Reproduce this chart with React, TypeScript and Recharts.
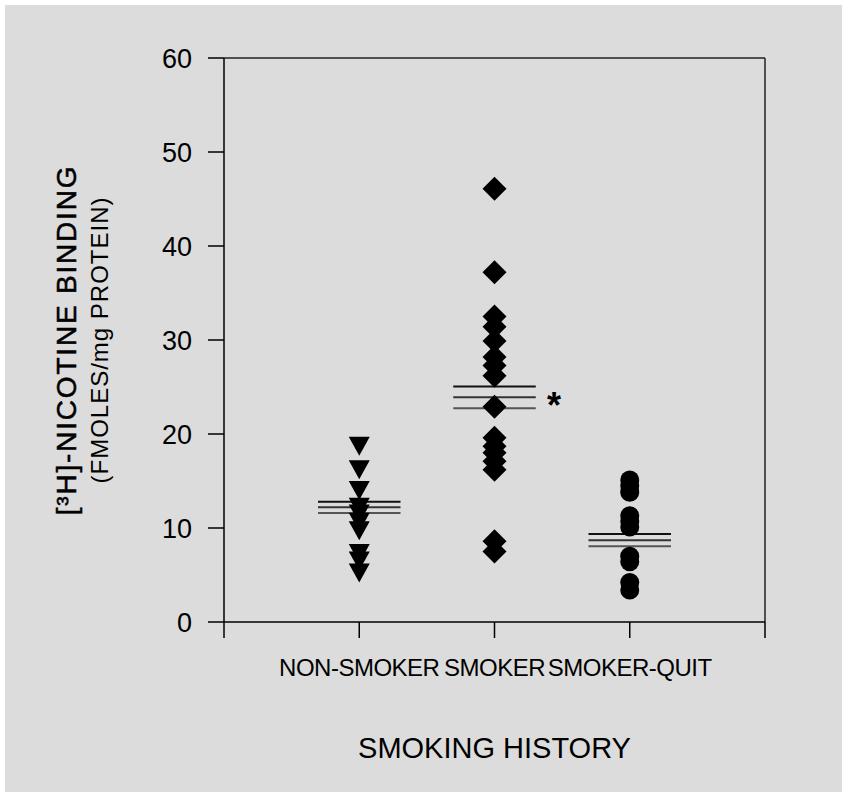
import { ScatterChart, Scatter, XAxis, YAxis, ReferenceLine, ReferenceDot, Label } from 'recharts';

// groups sit at x = 1, 2, 3 on a 0..4 axis
const groups = ['NON-SMOKER', 'SMOKER', 'SMOKER-QUIT'];
const nonSmoker = [18.7, 16.2, 14.0, 12.2, 11.5, 10.6, 9.7, 7.3, 6.5, 5.2];
const smoker = [46.1, 37.2, 32.5, 31.4, 29.9, 28.2, 27.3, 26.2, 22.9, 19.6, 18.7, 18.0, 17.1, 16.2, 8.6, 7.5];
const smokerQuit = [15.1, 14.5, 13.8, 11.3, 10.7, 10.1, 7.0, 6.4, 4.2, 3.4];
const means = [12.2, 23.9, 8.7];
const sems = [0.6, 1.15, 0.65];
const yTicks = [0, 10, 20, 30, 40, 50, 60];
const xTicks = [0, 1, 2, 3, 4];
const significant = [false, true, false];

const FONT = '"Liberation Sans", Arial, Helvetica, sans-serif';
const HALF = 0.305;

const toPoints = (vals: number[], x: number) => vals.map(y => ({ x, y }));

const TriangleDown = (p: any) => (
  <polygon
    points={`${p.cx - 10.5},${p.cy - 9.5} ${p.cx + 10.5},${p.cy - 9.5} ${p.cx},${p.cy + 9.5}`}
    fill="#000"
  />
);
const Diamond = (p: any) => (
  <polygon
    points={`${p.cx},${p.cy - 12} ${p.cx + 12},${p.cy} ${p.cx},${p.cy + 12} ${p.cx - 12},${p.cy}`}
    fill="#000"
  />
);
const Dot = (p: any) => <circle cx={p.cx} cy={p.cy} r={9.5} fill="#000" />;

const YTitle = (props: any) => {
  const vb = props.viewBox || { x: 0, y: 58, width: 224, height: 564 };
  const cy = vb.y + vb.height / 2;
  return (
    <g fontFamily={FONT} fill="#000">
      <text
        x={76}
        y={cy}
        transform={`rotate(-90, 76, ${cy})`}
        textAnchor="middle"
        fontSize={28}
        letterSpacing={1.8}
        stroke="#000"
        strokeWidth={0.5}
      >
        [³H]-NICOTINE BINDING
      </text>
      <text x={108} y={cy} transform={`rotate(-90, 108, ${cy})`} textAnchor="middle" fontSize={24} letterSpacing={1}>
        (FMOLES/mg PROTEIN)
      </text>
    </g>
  );
};

const XTitle = (props: any) => {
  const vb = props.viewBox || { x: 224, y: 622, width: 541, height: 170 };
  return (
    <text x={vb.x + vb.width / 2} y={vb.y + 136} textAnchor="middle" fontFamily={FONT} fontSize={29} fill="#000">
      SMOKING HISTORY
    </text>
  );
};

const Star = (props: any) => {
  const vb = props.viewBox || { x: 0, y: 0 };
  return (
    <text x={vb.x} y={vb.y + 21} textAnchor="middle" fontFamily={FONT} fontSize={36} fontWeight="bold" fill="#000">
      *
    </text>
  );
};

export default function App() {
  const lineColors = ['#111', '#333', '#555'];
  return (
    <div style={{ position: 'absolute', left: 0, top: 0, width: 842, height: 792, background: '#fff' }}>
      <div style={{ position: 'absolute', left: 5, top: 5, width: 837, height: 787, background: '#dcdcdc' }} />
      <div style={{ position: 'absolute', left: 0, top: 0 }}>
        <ScatterChart width={842} height={792} margin={{ top: 58, right: 77, bottom: 0, left: 0 }}>
          <XAxis
            type="number"
            dataKey="x"
            domain={[0, 4]}
            ticks={xTicks}
            interval={0}
            height={170}
            tickSize={16}
            tickMargin={21}
            stroke="#000"
            strokeWidth={1.5}
            tick={{ fill: '#000', fontSize: 24, fontFamily: FONT, letterSpacing: -0.5 }}
            tickFormatter={(v: number) => groups[v - 1] || ''}
          >
            <Label content={XTitle} />
          </XAxis>
          <YAxis
            type="number"
            dataKey="y"
            domain={[0, 60]}
            ticks={yTicks}
            interval={0}
            width={224}
            tickSize={16}
            tickMargin={16}
            stroke="#000"
            strokeWidth={1.5}
            tick={{ fill: '#000', fontSize: 27, fontFamily: FONT }}
          >
            <Label content={YTitle} />
          </YAxis>
          <ReferenceLine y={60} stroke="#222" strokeWidth={1.5} />
          <ReferenceLine x={4} stroke="#222" strokeWidth={1.5} />
          <Scatter data={toPoints(nonSmoker, 1)} shape={TriangleDown} isAnimationActive={false} />
          <Scatter data={toPoints(smoker, 2)} shape={Diamond} isAnimationActive={false} />
          <Scatter data={toPoints(smokerQuit, 3)} shape={Dot} isAnimationActive={false} />
          {means.map((m, i) =>
            [m + sems[i], m, m - sems[i]].map((v, j) => (
              <ReferenceLine
                key={`m${i}-${j}`}
                segment={[{ x: i + 1 - HALF, y: v }, { x: i + 1 + HALF, y: v }]}
                stroke={lineColors[j]}
                strokeWidth={2}
              />
            ))
          )}
          {means.map((m, i) =>
            significant[i] ? (
              <ReferenceDot key={`s${i}`} x={i + 1.44} y={m} r={0} stroke="none" fill="none">
                <Label content={Star} />
              </ReferenceDot>
            ) : null
          )}
        </ScatterChart>
      </div>
    </div>
  );
}
